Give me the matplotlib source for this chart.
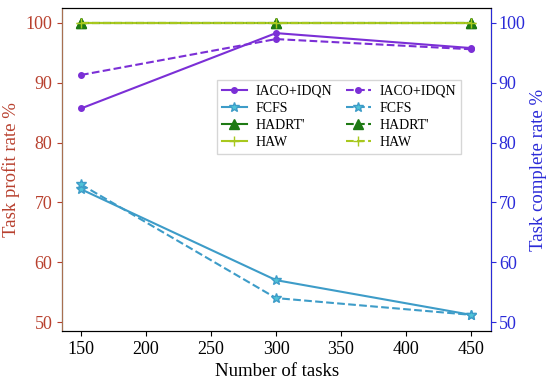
import matplotlib.pyplot as plt

plt.rcParams['font.family'] = ['Liberation Serif', 'DejaVu Serif']

tasks = [150, 300, 450]
iaco_profit = [85.7, 98.3, 95.8]
iaco_complete = [91.3, 97.3, 95.6]
fcfs_profit = [72.2, 57.0, 51.2]
fcfs_complete = [73.0, 54.0, 51.2]
hadrt_profit = [100, 100, 100]
hadrt_complete = [100, 100, 100]
haw_profit = [100, 100, 100]
haw_complete = [100, 100, 100]
yticks = [50, 60, 70, 80, 90, 100]

c_iaco = '#7b2fd6'
c_fcfs = '#3d9cc8'
c_hadrt = '#1e7a14'
c_haw = '#a8c81e'
c_left = '#b8402e'
c_right = '#2a2ad8'

fig, ax1 = plt.subplots(figsize=(5.5, 3.8), dpi=100)
ax2 = ax1.twinx()

h1 = ax1.plot(tasks, iaco_profit, '-', color=c_iaco, marker='o', ms=4, lw=1.5, label='IACO+IDQN')
h1 += ax1.plot(tasks, fcfs_profit, '-', color=c_fcfs, marker='*', ms=7, mfc='#4fc3d8', lw=1.5, label='FCFS')
h1 += ax1.plot(tasks, hadrt_profit, '-', color=c_hadrt, marker='^', ms=7, lw=1.5, label="HADRT'")
h1 += ax1.plot(tasks, haw_profit, '-', color=c_haw, marker='+', ms=7, lw=1.5, label='HAW')

h2 = ax2.plot(tasks, iaco_complete, '--', color=c_iaco, marker='o', ms=4, lw=1.5, label='IACO+IDQN')
h2 += ax2.plot(tasks, fcfs_complete, '--', color=c_fcfs, marker='*', ms=7, mfc='#4fc3d8', lw=1.5, label='FCFS')
h2 += ax2.plot(tasks, hadrt_complete, '--', color=c_hadrt, marker='^', ms=7, lw=1.5, label="HADRT'")
h2 += ax2.plot(tasks, haw_complete, '--', color=c_haw, marker='+', ms=7, lw=1.5, label='HAW')

for ax in (ax1, ax2):
    ax.set_ylim(48.5, 102.5)
    ax.set_yticks(yticks)
    ax.set_xlim(135.5, 465.5)

ax1.set_xlabel('Number of tasks', fontsize=13.5)
ax1.set_ylabel('Task profit rate %', fontsize=13.5, color=c_left)
ax2.set_ylabel('Task complete rate %', fontsize=13.5, color=c_right, labelpad=3)
ax1.tick_params(axis='x', labelsize=13)
ax1.tick_params(axis='y', labelsize=13, colors=c_left)
ax2.tick_params(axis='y', labelsize=13, colors=c_right, pad=2)
ax2.spines['left'].set_color('#a87050')
ax2.spines['right'].set_color(c_right)

ax2.legend(h1 + h2, [h.get_label() for h in h1 + h2], ncol=2, fontsize=10,
           loc='upper right', bbox_to_anchor=(0.945, 0.8), handlelength=1.8,
           columnspacing=1.0, handletextpad=0.6, labelspacing=0.3,
           borderpad=0.35, fancybox=False)

fig.subplots_adjust(left=0.113, right=0.893, top=0.979, bottom=0.129)
fig.savefig('out.png')
